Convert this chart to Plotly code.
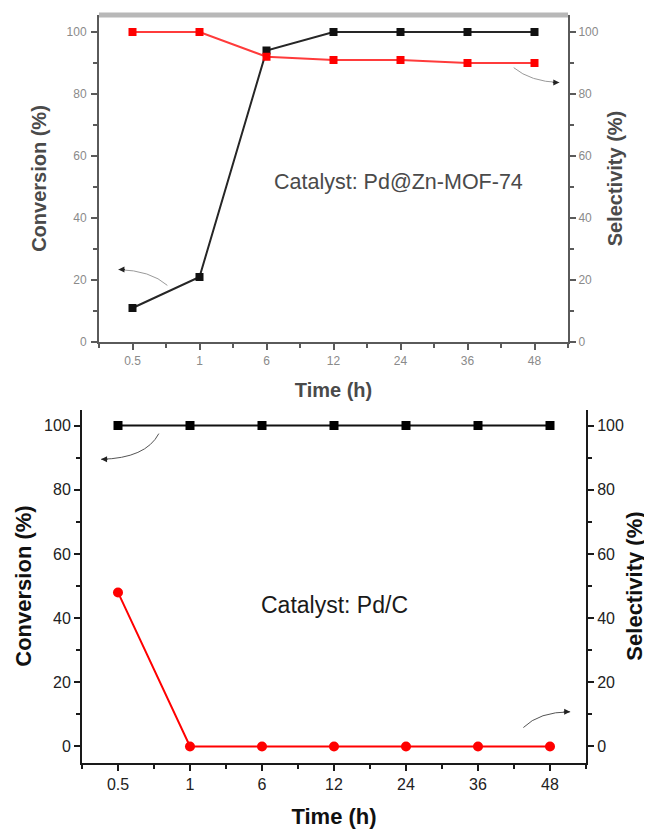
import plotly.graph_objects as go

# ---- data ----
categories = ["0.5", "1", "6", "12", "24", "36", "48"]
mof_conversion = [11, 21, 94, 100, 100, 100, 100]
mof_selectivity = [100, 100, 92, 91, 91, 90, 90]
pdc_conversion = [100, 100, 100, 100, 100, 100, 100]
pdc_selectivity = [48, 0, 0, 0, 0, 0, 0]
y_ticks = [0, 20, 40, 60, 80, 100]

# page body adds an 8px margin; size the figure to fit the 652x829 window
OFF = 8
W, H = 652 - OFF, 829 - OFF
FONT = "Liberation Sans, Arial, sans-serif"
xpos = list(range(len(categories)))

fig = go.Figure()

# top panel (Pd@Zn-MOF-74)
fig.add_trace(go.Scatter(x=xpos, y=mof_conversion, mode="lines+markers", xaxis="x", yaxis="y",
                         line=dict(color="#262626", width=2),
                         marker=dict(symbol="square", size=8, color="#111111"),
                         name="Conversion", showlegend=False))
fig.add_trace(go.Scatter(x=xpos, y=mof_selectivity, mode="lines+markers", xaxis="x", yaxis="y2",
                         line=dict(color="#ff3b3b", width=2),
                         marker=dict(symbol="square", size=8, color="#ff0000"),
                         name="Selectivity", showlegend=False))
# bottom panel (Pd/C)
fig.add_trace(go.Scatter(x=xpos, y=pdc_conversion, mode="lines+markers", xaxis="x2", yaxis="y3",
                         line=dict(color="#111111", width=2),
                         marker=dict(symbol="square", size=9, color="#000000"),
                         name="Conversion", showlegend=False))
fig.add_trace(go.Scatter(x=xpos, y=pdc_selectivity, mode="lines+markers", xaxis="x2", yaxis="y4",
                         line=dict(color="#ff0000", width=2),
                         marker=dict(symbol="circle", size=10, color="#ff0000"),
                         name="Selectivity", showlegend=False))

def px_x(p):
    return (p - OFF) / W

def px_y(p):
    return 1 - (p - OFF) / H

top_dom_x = [px_x(99), px_x(568)]
top_dom_y = [px_y(345), px_y(15)]
bot_dom_x = [px_x(82), px_x(586)]
bot_dom_y = [px_y(769), px_y(413)]

top_col = "#5a5a5a"
top_tick_font = dict(family=FONT, size=12, color="#8a8a8a")
top_title_font = dict(family=FONT, size=20, color="#4a4a4a")
bot_col = "#1a1a1a"
bot_tick_font = dict(family=FONT, size=16, color="#222222")
bot_title_font = dict(family=FONT, size=22, color="#111111")

def xaxis_cfg(dom, anchor, col, tfont, titfont, standoff):
    return dict(domain=dom, anchor=anchor, range=[-0.5, len(categories) - 0.5],
                tickmode="array", tickvals=xpos, ticktext=categories,
                showline=True, linecolor=col, linewidth=2, ticks="outside",
                ticklen=6, tickwidth=2, tickcolor=col, showgrid=False, zeroline=False,
                minor=dict(tickmode="linear", tick0=-0.5, dtick=1, ticks="outside",
                           ticklen=4, tickwidth=2, tickcolor=col),
                tickfont=tfont,
                title=dict(text="<b>Time (h)</b>", font=titfont, standoff=standoff))

def yaxis_cfg(dom, anchor, rng, col, tfont, titfont, title, side, standoff,
              label_gap=0, overlay=None):
    d = dict(domain=dom, anchor=anchor, range=rng, side=side,
             tickmode="array", tickvals=y_ticks,
             showline=True, linecolor=col, linewidth=2, ticks="outside",
             ticklen=6, tickwidth=2, tickcolor=col, showgrid=False, zeroline=False,
             minor=dict(tickmode="linear", tick0=0, dtick=10, ticks="outside",
                        ticklen=4, tickwidth=2, tickcolor=col),
             tickfont=tfont, ticklabelstandoff=label_gap,
             title=dict(text="<b>" + title + "</b>", font=titfont, standoff=standoff))
    if overlay:
        d["overlaying"] = overlay
    return d

fig.update_layout(
    width=W, height=H,
    margin=dict(l=0, r=0, t=0, b=0),
    paper_bgcolor="white", plot_bgcolor="white",
    font=dict(family=FONT),
    xaxis=xaxis_cfg(top_dom_x, "y", top_col, top_tick_font, top_title_font, 16),
    yaxis=yaxis_cfg(top_dom_y, "x", [0, 105.5], top_col, top_tick_font, top_title_font,
                    "Conversion (%)", "left", 15, label_gap=2),
    yaxis2=yaxis_cfg(top_dom_y, "x", [0, 105.5], top_col, top_tick_font, top_title_font,
                     "Selectivity (%)", "right", 10, overlay="y"),
    xaxis2=xaxis_cfg(bot_dom_x, "y3", bot_col, bot_tick_font, bot_title_font, 18),
    yaxis3=yaxis_cfg(bot_dom_y, "x2", [-5, 105], bot_col, bot_tick_font, bot_title_font,
                     "Conversion (%)", "left", 6),
    yaxis4=yaxis_cfg(bot_dom_y, "x2", [-5, 105], bot_col, bot_tick_font, bot_title_font,
                     "Selectivity (%)", "right", 4, overlay="y3"),
)

# light gray top border of the upper panel
fig.add_shape(type="line", xref="x domain", yref="y domain", x0=0, x1=1, y0=1, y1=1,
              line=dict(color="#b8b8b8", width=5), layer="above")

# catalyst labels
fig.add_annotation(x=3.97, y=51.6, xref="x", yref="y", text="Catalyst: Pd@Zn-MOF-74",
                   showarrow=False, font=dict(family=FONT, size=21.5, color="#4a4a4a"))
fig.add_annotation(x=3.0, y=44, xref="x2", yref="y3", text="Catalyst: Pd/C",
                   showarrow=False, font=dict(family=FONT, size=23, color="#1a1a1a"))

# curved pointer arrows
arrows = [
    # (xref, yref, start, ctrl, end, ax, color)
    ("x", "y", (0.52, 18.3), (0.27, 23.1), (-0.21, 23.4), 8, "#9a9a9a"),
    ("x", "y2", (5.69, 88.5), (5.94, 84.0), (6.37, 83.7), -8, "#9a9a9a"),
    ("x2", "y3", (0.567, 97.5), (0.387, 89.8), (-0.235, 89.5), 8, "#555555"),
    ("x2", "y4", (5.63, 5.9), (5.85, 10.8), (6.28, 10.8), -8, "#555555"),
]
for xr, yr, s, c, e, ax, col in arrows:
    fig.add_shape(type="path", xref=xr, yref=yr,
                  path=f"M {s[0]},{s[1]} Q {c[0]},{c[1]} {e[0]},{e[1]}",
                  line=dict(color=col, width=1))
    fig.add_annotation(x=e[0], y=e[1], xref=xr, yref=yr, text="", showarrow=True,
                       ax=ax, ay=0, arrowhead=2, arrowsize=1.2, arrowwidth=1,
                       arrowcolor="#222222")

fig.write_html("out.html")
